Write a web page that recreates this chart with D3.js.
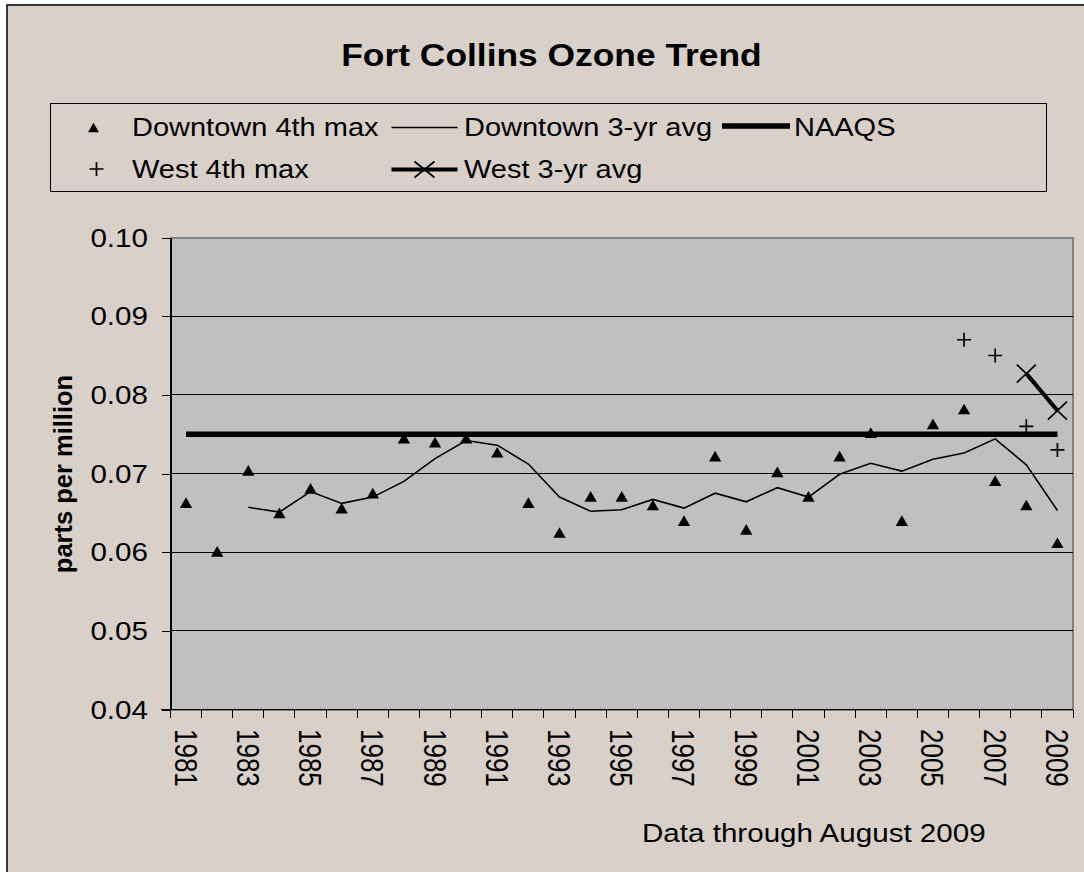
<!DOCTYPE html>
<html lang="en">
<head>
  <meta charset="utf-8">
  <title>Fort Collins Ozone Trend</title>
  <script src="https://d3js.org/d3.v7.min.js" charset="utf-8"></script>
  <style>
  body { margin: 0; background: #fff; }
  text { font-family: "Liberation Sans", Arial, sans-serif; fill: #000; }
  .crisp { shape-rendering: crispEdges; }
  </style>
</head>
<body>
  <script>
  var width = 1084;
  var height = 872;

  // data
  var years = [1981, 1982, 1983, 1984, 1985, 1986, 1987, 1988, 1989, 1990,
               1991, 1992, 1993, 1994, 1995, 1996, 1997, 1998, 1999, 2000,
               2001, 2002, 2003, 2004, 2005, 2006, 2007, 2008, 2009];
  var downtown4th = [0.0662, 0.0600, 0.0703, 0.0649, 0.0680, 0.0655, 0.0674, 0.0744, 0.0739, 0.0744,
                     0.0726, 0.0662, 0.0624, 0.0670, 0.0670, 0.0659, 0.0639, 0.0721, 0.0628, 0.0701,
                     0.0670, 0.0721, 0.0751, 0.0639, 0.0762, 0.0781, 0.0690, 0.0659, 0.0611];
  var downtownAvg = [null, null, 0.0657, 0.0651, 0.0677, 0.0662, 0.0670, 0.0690, 0.0719, 0.0742,
                     0.0736, 0.0712, 0.0670, 0.0652, 0.0654, 0.0667, 0.0656, 0.0675, 0.0664, 0.0682,
                     0.0670, 0.0699, 0.0713, 0.0703, 0.0718, 0.0726, 0.0744, 0.0711, 0.0653];
  var naaqs = [0.075, 0.075, 0.075, 0.075, 0.075, 0.075, 0.075, 0.075, 0.075, 0.075,
               0.075, 0.075, 0.075, 0.075, 0.075, 0.075, 0.075, 0.075, 0.075, 0.075,
               0.075, 0.075, 0.075, 0.075, 0.075, 0.075, 0.075, 0.075, 0.075];
  var westYears = [2006, 2007, 2008, 2009];
  var west4th = [0.087, 0.085, 0.076, 0.073];
  var westAvgYears = [2008, 2009];
  var westAvg = [0.0827, 0.078];
  var yTicks = [0.04, 0.05, 0.06, 0.07, 0.08, 0.09, 0.10];
  var xLabels = [1981, 1983, 1985, 1987, 1989, 1991, 1993, 1995, 1997, 1999, 2001, 2003, 2005, 2007, 2009];

  var SX = 1.16; // the original text is drawn a bit wide
  var bg = "#d8d0c9";

  var svg = d3.select("body")
    .append("svg")
    .attr("width", width)
    .attr("height", height);

  // chart area (runs off the right and bottom edge)
  svg.append("rect")
    .attr("x", 7).attr("y", 5)
    .attr("width", 1200).attr("height", 1000)
    .attr("fill", bg)
    .attr("stroke", "#000")
    .attr("stroke-width", 1.5);

  var plot = {left: 170.5, right: 1073, top: 237.5, bottom: 709.5};

  var x = d3.scaleBand()
    .domain(years)
    .range([plot.left, plot.right])
    .padding(0);
  var cx = function(yr) { return x(yr) + x.bandwidth() / 2; };

  var y = d3.scaleLinear()
    .domain([0.04, 0.10])
    .range([plot.bottom, plot.top]);

  function wide(sel, tx, ty, sx) {
    return sel.attr("transform", "translate(" + tx + "," + ty + ") scale(" + (sx || SX) + ",1)");
  }

  // title
  wide(svg.append("text"), 551.5, 66)
    .attr("text-anchor", "middle")
    .style("font-size", "30.5px")
    .style("font-weight", "bold")
    .text("Fort Collins Ozone Trend");

  // plot background + border
  svg.append("rect")
    .attr("class", "crisp")
    .attr("x", plot.left).attr("y", plot.top)
    .attr("width", plot.right - plot.left).attr("height", plot.bottom - plot.top)
    .attr("fill", "#c0c0c0")
    .attr("stroke", "#808080")
    .attr("stroke-width", 2);

  // gridlines
  svg.append("g")
    .attr("class", "crisp")
    .selectAll("line")
    .data(yTicks.slice(1, -1))
    .enter().append("line")
      .attr("x1", plot.left).attr("x2", plot.right)
      .attr("y1", function(d) { return y(d); })
      .attr("y2", function(d) { return y(d); })
      .attr("stroke", "#000")
      .attr("stroke-width", 1);

  // y axis
  var yAxis = svg.append("g")
    .attr("class", "crisp")
    .attr("transform", "translate(" + plot.left + ",0)")
    .call(d3.axisLeft(y).tickValues(yTicks).tickSize(9).tickSizeOuter(0).tickFormat(d3.format(".2f")));
  yAxis.select(".domain").attr("stroke", "#000").attr("stroke-width", 1.5);
  yAxis.selectAll(".tick line").attr("stroke", "#000");
  yAxis.selectAll(".tick text")
    .attr("x", null)
    .attr("dy", "0.34em")
    .attr("transform", "translate(-22.5,0) scale(" + SX + ",1)")
    .style("font-family", "'Liberation Sans', Arial, sans-serif")
    .style("font-size", "25.5px")
    .style("shape-rendering", "auto")
    .attr("fill", "#000");

  svg.append("text")
    .attr("transform", "translate(71.5,474) rotate(-90)")
    .attr("text-anchor", "middle")
    .style("font-size", "25.5px")
    .style("font-weight", "bold")
    .text("parts per million");

  // x axis: ticks on category edges, labels every other year
  svg.append("line")
    .attr("class", "crisp")
    .attr("x1", plot.left - 10).attr("x2", plot.right)
    .attr("y1", plot.bottom).attr("y2", plot.bottom)
    .attr("stroke", "#000").attr("stroke-width", 1.5);

  svg.append("g")
    .attr("class", "crisp")
    .selectAll("line")
    .data(years.concat([null]))
    .enter().append("line")
      .attr("x1", function(d) { return d === null ? plot.right : x(d); })
      .attr("x2", function(d) { return d === null ? plot.right : x(d); })
      .attr("y1", plot.bottom).attr("y2", plot.bottom + 8)
      .attr("stroke", "#000");

  svg.append("g")
    .selectAll("text")
    .data(xLabels)
    .enter().append("text")
      .attr("transform", function(d) {
        return "translate(" + (cx(d) - 11.5) + "," + 729 + ") scale(1.2,1) rotate(90)";
      })
      .style("font-size", "26px")
      .text(function(d) { return d; });

  // NAAQS
  var line = d3.line()
    .defined(function(d) { return d.v !== null; })
    .x(function(d) { return cx(d.yr); })
    .y(function(d) { return y(d.v); });

  svg.append("path")
    .datum(years.map(function(yr, i) { return {yr: yr, v: naaqs[i]}; }))
    .attr("d", line)
    .attr("fill", "none")
    .attr("stroke", "#000")
    .attr("stroke-width", 5.5);

  // Downtown 3-yr avg
  svg.append("path")
    .datum(years.map(function(yr, i) { return {yr: yr, v: downtownAvg[i]}; }))
    .attr("d", line)
    .attr("fill", "none")
    .attr("stroke", "#000")
    .attr("stroke-width", 1.6);

  // Downtown 4th max
  var tri = d3.symbol().type(d3.symbolTriangle).size(66);
  svg.append("g")
    .selectAll("path")
    .data(years.map(function(yr, i) { return {yr: yr, v: downtown4th[i]}; }))
    .enter().append("path")
      .attr("d", tri)
      .attr("transform", function(d) { return "translate(" + cx(d.yr) + "," + (y(d.v) + 1) + ")"; })
      .attr("fill", "#000");

  // West 4th max
  var plus = "M-7,0H7M0,-7V7";
  svg.append("g")
    .selectAll("path")
    .data(westYears.map(function(yr, i) { return {yr: yr, v: west4th[i]}; }))
    .enter().append("path")
      .attr("d", plus)
      .attr("transform", function(d) { return "translate(" + cx(d.yr) + "," + y(d.v) + ")"; })
      .attr("stroke", "#000")
      .attr("stroke-width", 1.7);

  // West 3-yr avg
  var westAvgData = westAvgYears.map(function(yr, i) { return {yr: yr, v: westAvg[i]}; });
  var cross = "M-9.5,-9L9.5,9M-9.5,9L9.5,-9";
  svg.append("path")
    .datum(westAvgData)
    .attr("d", line)
    .attr("fill", "none")
    .attr("stroke", "#000")
    .attr("stroke-width", 4);
  svg.append("g")
    .selectAll("path")
    .data(westAvgData)
    .enter().append("path")
      .attr("d", cross)
      .attr("transform", function(d) { return "translate(" + cx(d.yr) + "," + y(d.v) + ")"; })
      .attr("stroke", "#000")
      .attr("stroke-width", 1.7);

  // legend
  var legend = svg.append("g");
  legend.append("rect")
    .attr("class", "crisp")
    .attr("x", 50.5).attr("y", 103.5)
    .attr("width", 996).attr("height", 88)
    .attr("fill", "none")
    .attr("stroke", "#000")
    .attr("stroke-width", 1.2);

  legend.append("path")
    .attr("d", d3.symbol().type(d3.symbolTriangle).size(52))
    .attr("transform", "translate(93.5,129)")
    .attr("fill", "#000");
  legend.append("line")
    .attr("x1", 391.5).attr("x2", 457.5).attr("y1", 127.5).attr("y2", 127.5)
    .attr("stroke", "#000").attr("stroke-width", 1.4);
  legend.append("line")
    .attr("x1", 722).attr("x2", 790).attr("y1", 126).attr("y2", 126)
    .attr("stroke", "#000").attr("stroke-width", 5.5);
  legend.append("path")
    .attr("d", plus)
    .attr("transform", "translate(96.5,169)")
    .attr("stroke", "#000").attr("stroke-width", 1.7);
  legend.append("line")
    .attr("x1", 391.5).attr("x2", 457.5).attr("y1", 169.5).attr("y2", 169.5)
    .attr("stroke", "#000").attr("stroke-width", 4);
  legend.append("path")
    .attr("d", "M-10,-8L10,8M-10,8L10,-8")
    .attr("transform", "translate(424.5,169.5)")
    .attr("stroke", "#000").attr("stroke-width", 1.7);

  var legendText = [
    {t: "Downtown 4th max", x: 132, y: 136},
    {t: "Downtown 3-yr avg", x: 464, y: 136},
    {t: "NAAQS", x: 794, y: 136},
    {t: "West 4th max", x: 132, y: 178},
    {t: "West 3-yr avg", x: 464, y: 178}
  ];
  legendText.forEach(function(d) {
    wide(legend.append("text"), d.x, d.y)
      .style("font-size", "25px")
      .text(d.t);
  });

  // footnote
  wide(svg.append("text"), 642, 842)
    .style("font-size", "25.5px")
    .text("Data through August 2009");
  </script>
</body>
</html>
